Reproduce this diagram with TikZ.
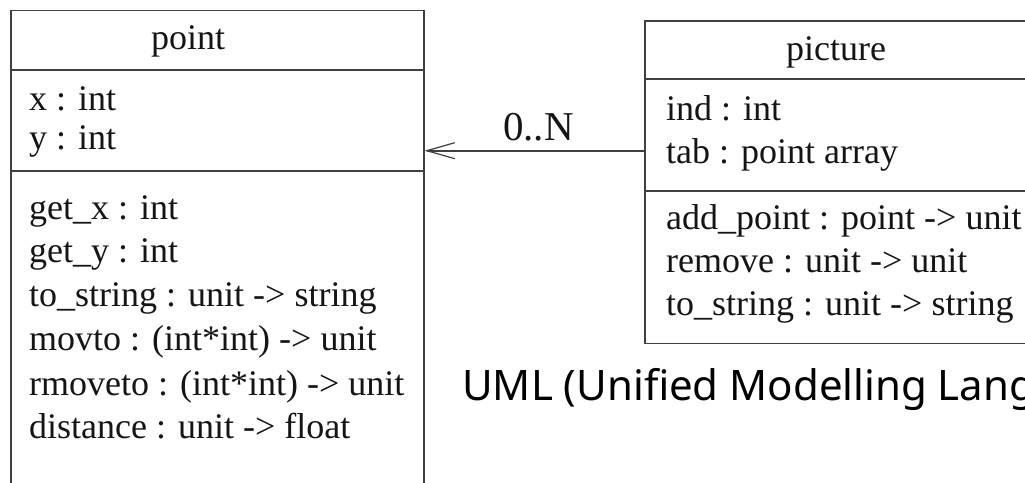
\documentclass[tikz,border=0pt]{standalone}
\usepackage{fontspec}
\setmainfont{Liberation Serif}
\newfontfamily\umlfont{Noto Sans}
\usetikzlibrary{arrows.meta}
\definecolor{linecol}{HTML}{404040}
\definecolor{txtcol}{HTML}{151515}
\tikzset{
  classbox/.style={draw=linecol, line width=1.6pt},
  sepline/.style={draw=linecol, line width=1.6pt},
  member/.style={anchor=base west, inner sep=0pt, text=txtcol, font=\fontsize{36}{44}\selectfont},
  ctitle/.style={anchor=base, inner sep=0pt, text=txtcol, font=\fontsize{36}{44}\selectfont},
  multlabel/.style={anchor=base west, inner sep=0pt, text=txtcol, font=\fontsize{41}{48}\selectfont},
  caption/.style={anchor=base west, inner sep=0pt, text=black, font=\umlfont\fontsize{42}{50}\selectfont},
  assoc/.style={draw=linecol, line width=1.6pt, -{Straight Barb[length=28pt,width=16pt,line width=1.2pt]}}
}
\begin{document}
\begin{tikzpicture}[x=1pt,y=-1pt]
\useasboundingbox (0,0) rectangle (1025,482);
\clip (0,0) rectangle (1025,482);
\fill[white] (0,0) rectangle (1025,482);
% class point
\node[classbox, rectangle, inner sep=0pt, minimum width=413pt, minimum height=510pt, anchor=north west] (pointbox) at (10,9.5) {};
\draw[sepline] (pointbox.west |- 0,70) -- (pointbox.east |- 0,70);
\draw[sepline] (pointbox.west |- 0,171) -- (pointbox.east |- 0,171);
\node[ctitle] (ptitle) at (188,49) {point};
\node[member] (px) at (29,110) {x : int};
\node[member] (py) at (29,149) {y : int};
\node[member] (pm1) at (29,219) {get\_x : int};
\node[member] (pm2) at (29,262) {get\_y : int};
\node[member] (pm3) at (29,306) {to\_string : unit -> string};
\node[member] (pm4) at (29,350) {movto : (int*int) -> unit};
\node[member] (pm5) at (29,395) {rmoveto : (int*int) -> unit};
\node[member] (pm6) at (29,438) {distance : unit -> float};
% class picture
\node[classbox, rectangle, inner sep=0pt, minimum width=384pt, minimum height=322.5pt, anchor=north west] (picbox) at (644,20) {};
\draw[sepline] (picbox.west |- 0,79) -- (picbox.east |- 0,79);
\draw[sepline] (picbox.west |- 0,191) -- (picbox.east |- 0,191);
\node[ctitle] (qtitle) at (836,60) {picture};
\node[member] (qa1) at (666,120) {ind : int};
\node[member] (qa2) at (666,163) {tab : point array};
\node[member] (qm1) at (666,229) {add\_point : point -> unit};
\node[member] (qm2) at (666,272) {remove : unit -> unit};
\node[member] (qm3) at (666,315) {to\_string : unit -> string};
% association
\coordinate (assocstart) at (picbox.west |- 0,150.7);
\draw[assoc] (assocstart) -- (pointbox.east |- assocstart);
\node[multlabel] (mult) at (503,140) {0..N};
% caption
\node[caption] (cap) at (462,400.7) {UML (Unified Modelling Lang};
\end{tikzpicture}
\end{document}
